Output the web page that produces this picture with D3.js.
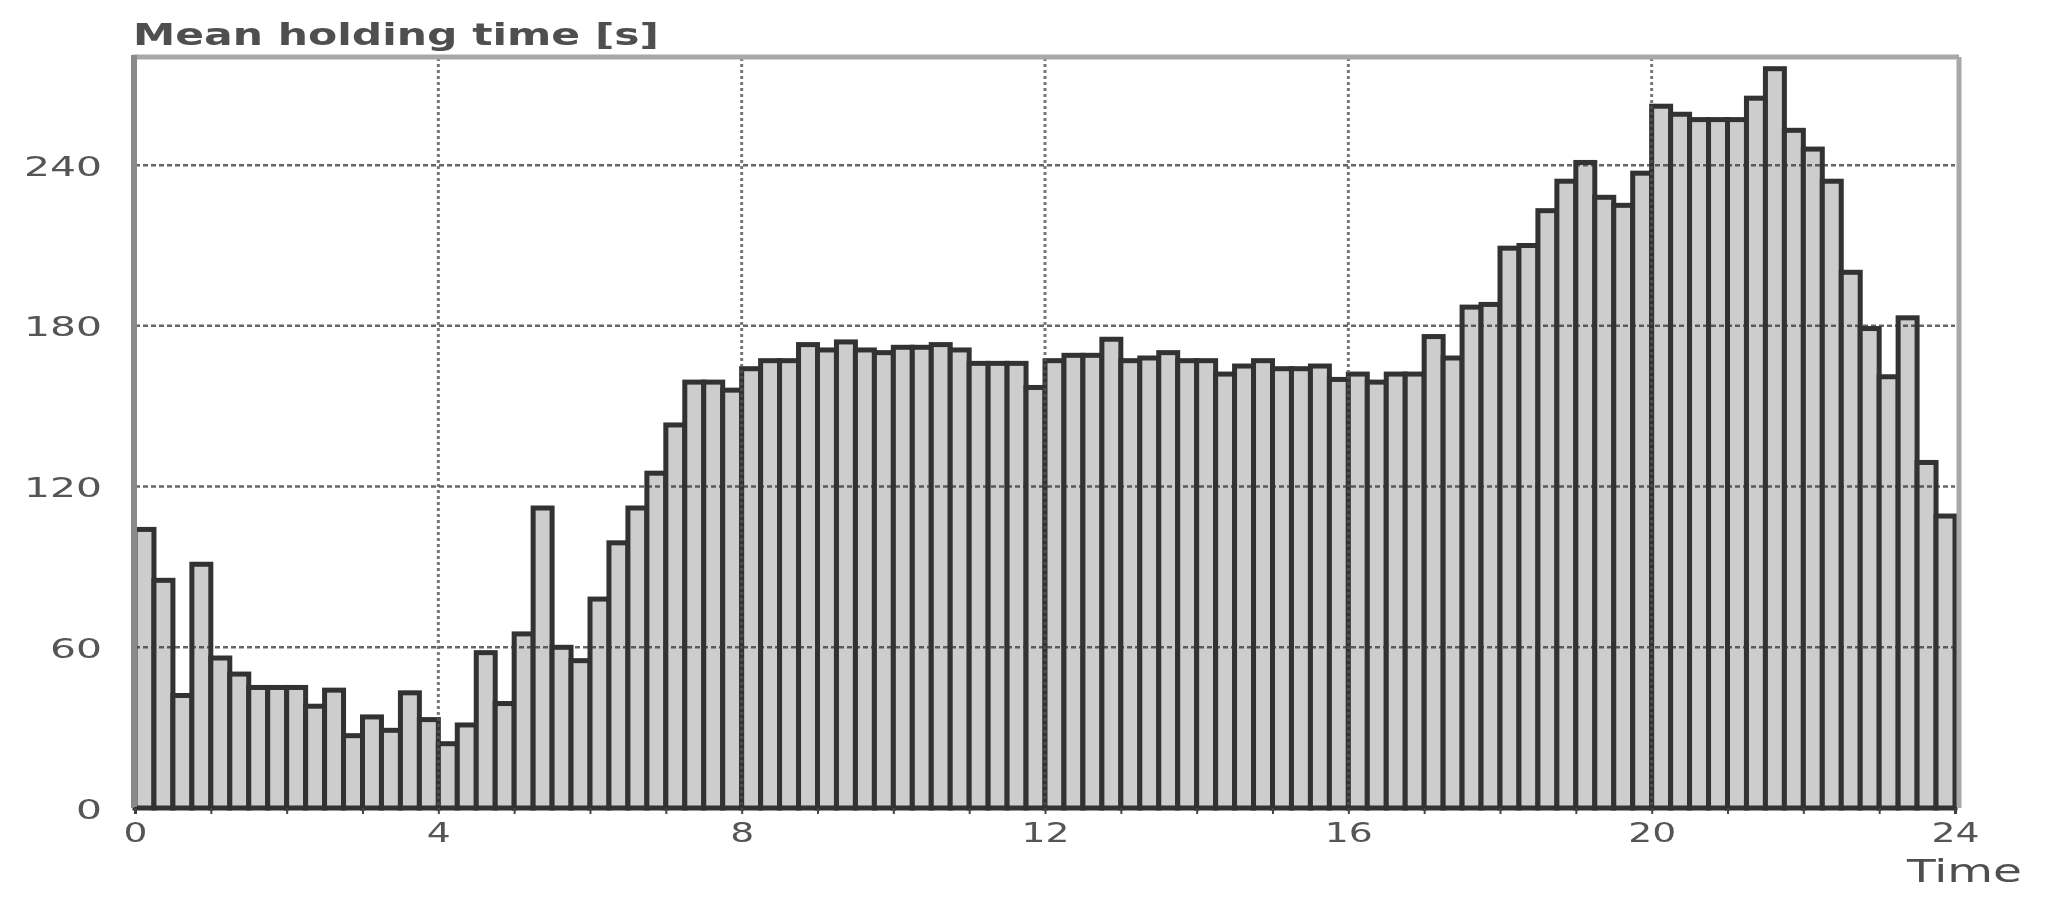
<!DOCTYPE html>
<html>
<head>
<meta charset="utf-8">
<script src="https://cdn.jsdelivr.net/npm/d3@7"></script>
<style>
  html, body { margin: 0; padding: 0; background: #fff; }
  svg { display: block; }
  text { font-family: "DejaVu Sans", sans-serif; }
</style>
</head>
<body>
<svg id="chart" width="2047" height="910"></svg>
<script>
// ---- data (15-minute intervals over 24 hours) ----
const intervalHours = 0.25;
const holdingTime = [
  104, 85, 42, 91, 56, 50, 45, 45, 45, 38, 44, 27, 34, 29, 43, 33,
  24, 31, 58, 39, 65, 112, 60, 55, 78, 99, 112, 125, 143, 159, 159, 156,
  164, 167, 167, 173, 171, 174, 171, 170, 172, 172, 173, 171, 166, 166, 166, 157,
  167, 169, 169, 175, 167, 168, 170, 167, 167, 162, 165, 167, 164, 164, 165, 160,
  162, 159, 162, 162, 176, 168, 187, 188, 209, 210, 223, 234, 241, 228, 225, 237,
  262, 259, 257, 257, 257, 265, 276, 253, 246, 234, 200, 179, 161, 183, 129, 109
];
const xTickLabels = [0, 4, 8, 12, 16, 20, 24];
const yTickLabels = [0, 60, 120, 180, 240];
const xDomain = [0, 24];
const yDomain = [0, 280];
const yTitle = "Mean holding time [s]";
const xTitle = "Time";

// ---- layout ----
const svg = d3.select("#chart");
const plotL = 135, plotR = 1955, plotT = 58, plotB = 808;

svg.append("defs").append("filter").attr("id", "soft")
  .append("feGaussianBlur").attr("stdDeviation", 0.6);

const root = svg.append("g").attr("filter", "url(#soft)");

const x = d3.scaleLinear().domain(xDomain).range([plotL, plotR]);
const y = d3.scaleLinear().domain(yDomain).range([plotB, plotT]);

// bars
root.append("g").selectAll("rect")
  .data(holdingTime)
  .join("rect")
  .attr("x", (d, i) => x(i * intervalHours))
  .attr("width", (d, i) => x((i + 1) * intervalHours) - x(i * intervalHours))
  .attr("y", d => y(d))
  .attr("height", d => y(0) - y(d))
  .attr("fill", "#cdcdcd")
  .attr("stroke", "#303030")
  .attr("stroke-width", 5);

// horizontal grid lines (over bars)
root.append("g").selectAll("line")
  .data(yTickLabels.filter(v => v > 0))
  .join("line")
  .attr("x1", plotL).attr("x2", plotR)
  .attr("y1", d => y(d)).attr("y2", d => y(d))
  .attr("stroke", "#333")
  .attr("stroke-opacity", 0.75)
  .attr("stroke-width", 2.5)
  .attr("stroke-dasharray", "5,3");

// vertical grid lines
root.append("g").selectAll("line")
  .data(xTickLabels.filter(v => v > 0 && v < 24))
  .join("line")
  .attr("x1", d => x(d)).attr("x2", d => x(d))
  .attr("y1", plotT).attr("y2", plotB)
  .attr("stroke", "#555")
  .attr("stroke-opacity", 0.8)
  .attr("stroke-width", 3)
  .attr("stroke-dasharray", "3,3");

// frame
root.append("line").attr("x1", plotL - 2).attr("x2", plotR + 4).attr("y1", plotT - 1).attr("y2", plotT - 1)
  .attr("stroke", "#a8a8a8").attr("stroke-width", 5);
root.append("line").attr("x1", plotR + 4).attr("x2", plotR + 4).attr("y1", plotT - 1).attr("y2", plotB)
  .attr("stroke", "#a8a8a8").attr("stroke-width", 5);
root.append("line").attr("x1", plotL - 1).attr("x2", plotL - 1).attr("y1", plotT - 3).attr("y2", plotB)
  .attr("stroke", "#8a8a8a").attr("stroke-width", 6);

// x axis (hour ticks, labels every 4 hours)
const xAxis = d3.axisBottom(x)
  .tickValues(d3.range(0, 25, 1))
  .tickSize(6)
  .tickFormat(d => xTickLabels.includes(d) ? String(d) : "");
const gx = root.append("g").attr("transform", `translate(0,${plotB})`).call(xAxis);
gx.select(".domain").attr("stroke", "#333").attr("stroke-width", 3);
gx.selectAll(".tick line").attr("stroke", "#444").attr("stroke-width", 2);
gx.selectAll(".tick text")
  .attr("font-size", 27)
  .attr("fill", "#555")
  .attr("font-family", "DejaVu Sans")
  .attr("y", 0)
  .attr("dy", 34)
  .each(function () {
    const t = d3.select(this).text();
    if (t) d3.select(this).attr("textLength", t.length * 24).attr("lengthAdjust", "spacingAndGlyphs");
  });

// y axis labels
const yAxis = d3.axisLeft(y)
  .tickValues(yTickLabels)
  .tickSize(0)
  .tickPadding(33);
const gy = root.append("g").attr("transform", `translate(${plotL},0)`).call(yAxis);
gy.select(".domain").remove();
gy.selectAll(".tick text")
  .attr("font-size", 27)
  .attr("fill", "#555")
  .attr("font-family", "DejaVu Sans")
  .attr("dy", 10)
  .each(function () {
    const t = d3.select(this).text();
    d3.select(this).attr("textLength", t.length * 26).attr("lengthAdjust", "spacingAndGlyphs");
  });

// titles
root.append("text")
  .attr("x", 133).attr("y", 45)
  .attr("font-size", 30)
  .attr("font-weight", "bold")
  .attr("fill", "#505050")
  .attr("textLength", 526).attr("lengthAdjust", "spacingAndGlyphs")
  .text(yTitle);

root.append("text")
  .attr("x", 1907).attr("y", 882)
  .attr("font-size", 32)
  .attr("fill", "#505050")
  .attr("textLength", 115).attr("lengthAdjust", "spacingAndGlyphs")
  .text(xTitle);
</script>
</body>
</html>
